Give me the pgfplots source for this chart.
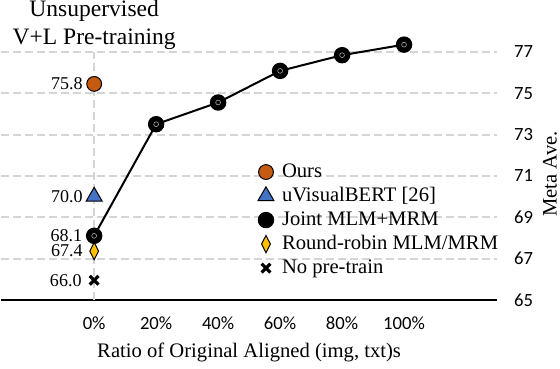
\documentclass[border=0pt]{standalone}
\usepackage{pgfplots}
\pgfplotsset{compat=1.18}
\usepackage{fontspec}
\setmainfont{Liberation Serif}
\newfontfamily\carlito{Carlito}
\definecolor{oursc}{HTML}{C55A11}
\definecolor{uvbc}{HTML}{4472C4}
\definecolor{rrc}{HTML}{FFC000}
\definecolor{gridc}{HTML}{D5D5D5}
\begin{document}
\begin{tikzpicture}
\begin{axis}[
  scale only axis,
  width=247.5pt, height=123.8pt,
  xmin=-1.5, xmax=6.5,
  ymin=65, ymax=77,
  clip=false,
  axis x line*=bottom,
  axis y line*=right,
  x axis line style={-, line width=1.2pt},
  y axis line style={draw=none},
  major tick length=0pt,
  xtick={0,1,2,3,4,5},
  xticklabels={0\%,20\%,40\%,60\%,80\%,100\%},
  ytick={65,67,69,71,73,75,77},
  ymajorgrids,
  extra x ticks={0},
  extra x tick labels={},
  extra x tick style={grid=major},
  major grid style={gridc, line width=1pt, dash pattern=on 4pt off 2pt},
  tick label style={font=\carlito\fontsize{9.3}{11}\selectfont},
  /pgf/number format/assume math mode=true,
  xticklabel style={yshift=-5pt},
  yticklabel style={xshift=5pt},
  xlabel={Ratio of Original Aligned (img, txt)s},
  ylabel={Meta Ave.},
  label style={font=\fontsize{10.3}{12}\selectfont},
  xlabel style={yshift=0.5pt},
  ylabel style={inner sep=1.5pt, xshift=1pt},
  legend cell align=left,
  legend image code/.code={\draw[#1,only marks] plot coordinates {(0.1cm,0cm)}; \path (0.1cm+5.5pt,0cm);},
  legend style={at={(rel axis cs:0.505,0.583)}, anchor=north west, draw=none, fill=none,
    font=\fontsize{10.3}{12}\selectfont, row sep=-0.5pt},
  nodes near coords,
  point meta=explicit symbolic,
  every node near coord/.append style={anchor=east, xshift=-4.5pt, yshift=0pt,
    font=\fontsize{9}{10}\selectfont, inner sep=1pt},
]
\addplot[only marks, mark=*, mark size=3.7pt, mark options={fill=oursc, draw=black, line width=0.5pt}]
  coordinates {(0,75.45) [75.8]};
\addlegendentry{Ours}
\addplot[only marks, mark=triangle*, mark size=4.6pt, mark options={fill=uvbc, draw=black, line width=0.5pt}]
  coordinates {(0,70.0) [70.0]};
\addlegendentry{uVisualBERT [26]}
\addplot[black, line width=1pt, mark=*, mark size=3.6pt, mark options={fill=black}]
  coordinates {(0,68.1) [68.1] (1,73.5) [] (2,74.55) [] (3,76.08) [] (4,76.84) [] (5,77.35) []};
\addlegendentry{Joint MLM+MRM}
\addplot[only marks, mark=diamond*, mark size=4.3pt, mark options={fill=rrc, draw=black, line width=0.5pt, xscale=0.68}]
  coordinates {(0,67.36) [67.4]};
\addlegendentry{Round-robin MLM/MRM}
\addplot[only marks, mark=x, mark size=3.1pt, mark options={draw=black, line width=1.6pt}]
  coordinates {(0,65.95) [66.0]};
\addlegendentry{No pre-train}
\addplot[only marks, forget plot, nodes near coords={}, mark=o, mark size=1.2pt, mark options={draw=gray!70, line width=0.3pt}]
  coordinates {(0,68.1) [] (1,73.5) [] (2,74.55) [] (3,76.08) [] (4,76.84) [] (5,77.35) []};
\node[anchor=south, inner sep=0pt, align=center, font=\fontsize{11.75}{14}\selectfont]
  at (axis cs:0,77) [yshift=1pt] {Unsupervised\\V+L Pre-training};
\end{axis}
\end{tikzpicture}
\end{document}
